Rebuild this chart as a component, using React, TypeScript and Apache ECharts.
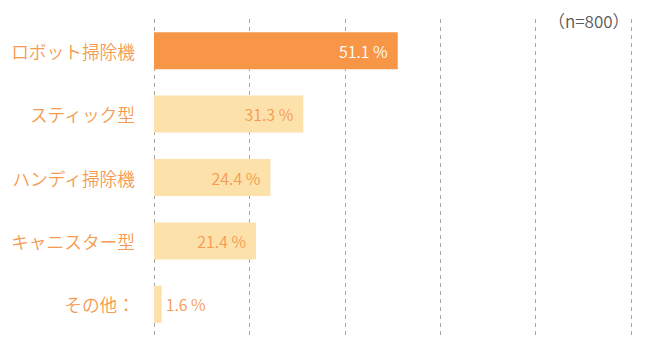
import React, { useEffect, useRef } from "react";
import * as echarts from "echarts";

const categories = ["ロボット掃除機", "スティック型", "ハンディ掃除機", "キャニスター型", "その他："];
const values = [51.1, 31.3, 24.4, 21.4, 1.6];
const highlightIndex = 0;
const sampleNote = "（n=800）";

const FONT = "'Noto Sans CJK JP', 'Noto Sans', sans-serif";
const ORANGE = "#F79646";
const LABEL_ORANGE = "#F59A50";
const LIGHT = "#FCE1AA";

export default function App() {
  const ref = useRef<HTMLDivElement>(null);
  useEffect(() => {
    if (!ref.current) return;
    const chart = echarts.init(ref.current, undefined, { renderer: "svg" });
    chart.setOption({
      animation: false,
      backgroundColor: "#fff",
      grid: { left: 154, top: 19, width: 477, height: 317 },
      graphic: [
        {
          type: "text",
          x: 548,
          y: 20,
          style: {
            text: sampleNote,
            font: `350 17px ${FONT}`,
            fill: "#595959",
            verticalAlign: "middle",
          },
        },
      ],
      xAxis: {
        type: "value",
        min: 0,
        max: 100,
        interval: 20,
        axisLabel: { show: false },
        axisLine: { show: false },
        axisTick: { show: false },
        splitLine: { show: true, lineStyle: { type: [4, 4], color: "#A6A6A6", width: 1 } },
      },
      yAxis: {
        type: "category",
        inverse: true,
        data: categories,
        axisLine: { show: false },
        axisTick: { show: false },
        axisLabel: {
          margin: 19,
          fontSize: 17.7,
          fontWeight: 350,
          color: LABEL_ORANGE,
          fontFamily: FONT,
        },
      },
      series: [
        {
          type: "bar",
          barWidth: 37,
          data: values.map((v, i) => ({
            value: v,
            itemStyle: { color: i === highlightIndex ? ORANGE : LIGHT },
            label: {
              show: true,
              position: v < 5 ? "right" : "insideRight",
              distance: v < 5 ? 4 : 10,
              color: i === highlightIndex ? "#FFFFFF" : LABEL_ORANGE,
              fontSize: 16,
              fontWeight: 350,
              fontFamily: FONT,
              formatter: (p: any) => `${p.value.toFixed(1)} %`,
            },
          })),
        },
      ],
    });
    return () => chart.dispose();
  }, []);
  return <div ref={ref} style={{ width: 650, height: 356, margin: -8 }} />;
}
